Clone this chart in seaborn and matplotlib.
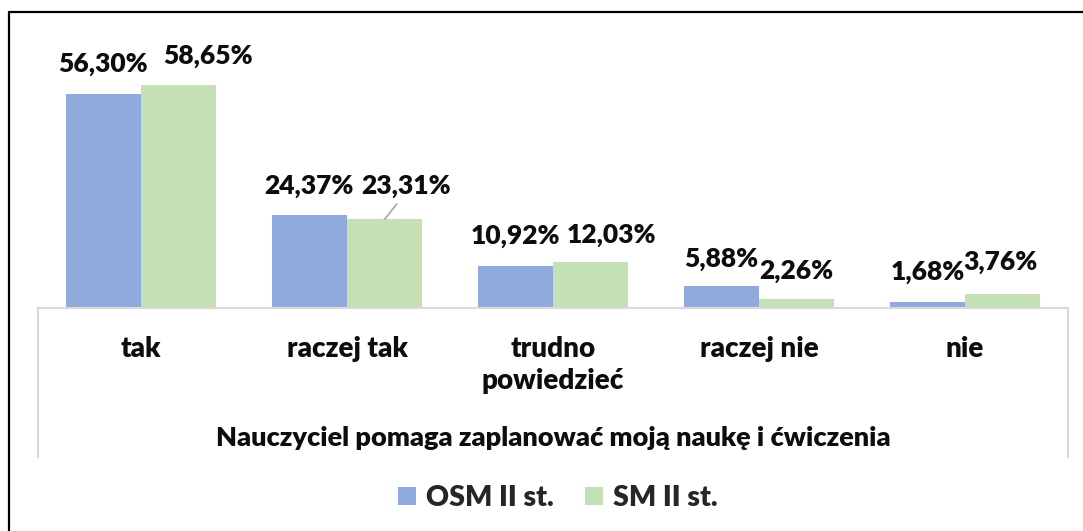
import matplotlib
matplotlib.use("Agg")
import matplotlib.pyplot as plt
import seaborn as sns
import pandas as pd
from matplotlib.lines import Line2D
from matplotlib.patches import Patch

# ---- data ----
categories = ["tak", "raczej tak", "trudno\npowiedzieć", "raczej nie", "nie"]
series_names = ["OSM II st.", "SM II st."]
osm_values = [56.30, 24.37, 10.92, 5.88, 1.68]
sm_values = [58.65, 23.31, 12.03, 2.26, 3.76]
axis_title = "Nauczyciel pomaga zaplanować moją naukę i ćwiczenia"

# ---- style ----
colors = ["#8FAADC", "#C5E0B4"]
grid_gray = "#D9D9D9"
text_color = "#0D0D0D"
WEIGHT = "heavy"
# label offsets in pixels (dx, dy) per series, per category
label_offsets = [
    [(0, 30), (0, 29), (0, 30), (0, 27), (0, 30)],
    [(29, 29), (21, 33), (21, 27), (0, 28), (-2, 32)],
]

df = pd.DataFrame({
    "category": categories * 2,
    "series": [series_names[0]] * len(categories) + [series_names[1]] * len(categories),
    "value": osm_values + sm_values,
})

sns.set_theme(style="white")
plt.rcParams["font.family"] = ["Lato", "DejaVu Sans"]
plt.rcParams["font.weight"] = WEIGHT

W, H = 1083, 531
DPI = 100
fig = plt.figure(figsize=(W / DPI, H / DPI), dpi=DPI)
fig.patch.set_facecolor("white")

ax_l, ax_r, ax_b, ax_t = 38 / W, 1068 / W, 1 - 308 / H, 1 - 40 / H
ax = fig.add_axes([ax_l, ax_b, ax_r - ax_l, ax_t - ax_b])

sns.barplot(data=df, x="category", y="value", hue="series", order=categories,
            hue_order=series_names, palette=colors, width=0.73, gap=0,
            linewidth=0, saturation=1, ax=ax, legend=False)

ax.set_xlim(-0.5, len(categories) - 0.5)
ax.set_ylim(0, 70.5)
ax.set_yticks([])
ax.set_ylabel("")
for s in ["left", "right", "top"]:
    ax.spines[s].set_visible(False)
ax.spines["bottom"].set_color(grid_gray)
ax.spines["bottom"].set_linewidth(1.5)
ax.set_facecolor("none")

ax.tick_params(axis="x", length=0, pad=20, labelsize=20)
for lbl in ax.get_xticklabels():
    lbl.set_fontweight(WEIGHT)
    lbl.set_color(text_color)
    lbl.set_linespacing(1.3)
ax.set_xlabel(axis_title, fontsize=19.5, fontweight=WEIGHT, labelpad=23, color=text_color)

px = 72 / DPI
for si, cont in enumerate(ax.containers):
    for ci, bar in enumerate(cont):
        v = bar.get_height()
        txt = f"{v:.2f}".replace(".", ",") + "%"
        dx, dy = label_offsets[si][ci]
        xc = bar.get_x() + bar.get_width() / 2
        arrow = None
        if si == 1 and ci == 1:
            arrow = dict(arrowstyle="-", color="#A6A6A6", lw=1.2, shrinkA=2, shrinkB=0,
                         relpos=(0.45, 0.0))
        ax.annotate(txt, xy=(xc, v), xytext=(dx * px, dy * px), textcoords="offset points",
                    ha="center", va="center", fontsize=19, fontweight=WEIGHT,
                    color=text_color, arrowprops=arrow, annotation_clip=False)

# gray category box verticals
for xp in (38, 1068):
    fig.add_artist(Line2D([xp / W, xp / W], [1 - 308 / H, 1 - 457 / H], color=grid_gray, lw=1.5))

# outer border (partially visible)
fig.add_artist(Line2D([9 / W, 9 / W], [0, 1 - 12 / H], color="black", lw=1.6))
fig.add_artist(Line2D([9 / W, 1], [1 - 12 / H, 1 - 12 / H], color="black", lw=1.6))

# legend
handles = [Patch(facecolor=c, edgecolor="none") for c in colors]
fig.legend(handles, series_names, loc="center", bbox_to_anchor=(558 / W, 1 - 498 / H),
           ncol=2, frameon=False, prop={"size": 20.5, "weight": WEIGHT},
           handlelength=0.63, handleheight=0.63, handletextpad=0.35, columnspacing=1.1)

fig.savefig("out.png", dpi=DPI)
